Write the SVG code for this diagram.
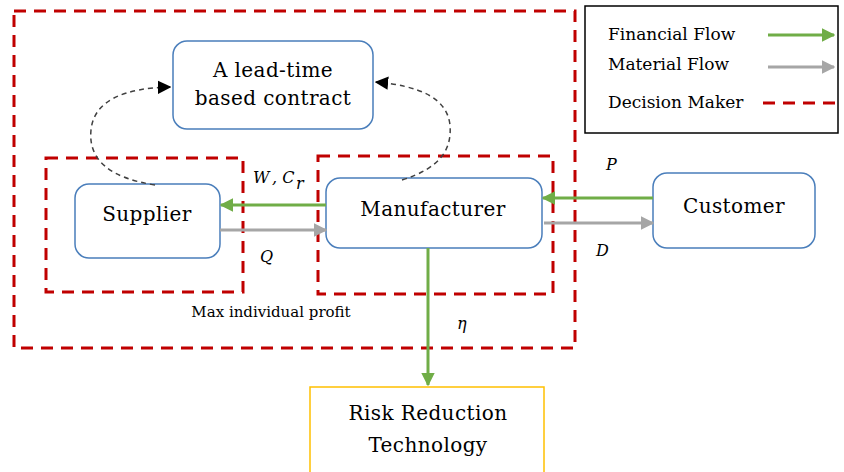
<svg xmlns="http://www.w3.org/2000/svg" width="844" height="472" viewBox="0 0 844 472">
<defs>
<style>
.dm{fill:none;stroke:#c00000;stroke-width:3;stroke-dasharray:12 8}
.node{fill:#fff;stroke:#4a7ebb;stroke-width:1.5}
.t{font-family:"DejaVu Serif","Liberation Serif",serif;fill:#000}
.n{font-size:20px;letter-spacing:0.4px;text-anchor:middle}
.fin{stroke:#70ad47;stroke-width:3;fill:none}
.mat{stroke:#a6a6a6;stroke-width:3;fill:none}
.cur{stroke:#404040;stroke-width:1.5;fill:none;stroke-dasharray:5 4}
.lbl{font-family:"DejaVu Serif","Liberation Serif",serif;font-style:italic;font-size:16px}
</style>
<marker id="ag" viewBox="0 0 10 10" refX="9" refY="5" markerWidth="4.5" markerHeight="4.5" orient="auto"><path d="M0,0L10,5L0,10z" fill="#70ad47"/></marker>
<marker id="ay" viewBox="0 0 10 10" refX="9" refY="5" markerWidth="4.5" markerHeight="4.5" orient="auto"><path d="M0,0L10,5L0,10z" fill="#a6a6a6"/></marker>
<marker id="ak" viewBox="0 0 10 10" refX="9" refY="5" markerWidth="9" markerHeight="9" orient="auto"><path d="M0,0L10,5L0,10z" fill="#000"/></marker>
</defs>
<rect width="844" height="472" fill="#fff"/>

<g id="decision-makers">
<rect class="dm" x="14" y="11" width="561" height="337"/>
<rect class="dm" x="46" y="158" width="197" height="134"/>
<rect class="dm" x="318" y="156" width="235" height="138"/>
<text class="t" x="271" y="317" font-size="15" text-anchor="middle">Max individual profit</text>
</g>

<g id="legend">
<rect x="585" y="6" width="253" height="127" fill="#fff" stroke="#000" stroke-width="1.5"/>
<text class="t" x="608" y="40" font-size="17">Financial Flow</text>
<text class="t" x="608" y="70" font-size="17">Material Flow</text>
<text class="t" x="608" y="108" font-size="17">Decision Maker</text>
<line class="fin" x1="768" y1="35" x2="834" y2="35" marker-end="url(#ag)"/>
<line class="mat" x1="768" y1="67" x2="834" y2="67" marker-end="url(#ay)"/>
<line class="dm" x1="763" y1="103" x2="838" y2="103"/>
</g>

<g id="contract">
<rect class="node" x="173" y="41" width="200" height="88" rx="14"/>
<text class="t n" x="273" y="77">A lead-time</text>
<text class="t n" x="273" y="105">based contract</text>
</g>

<g id="supplier">
<rect class="node" x="75" y="184" width="145" height="74" rx="14"/>
<text class="t n" x="147" y="221">Supplier</text>
</g>

<g id="manufacturer">
<rect class="node" x="326" y="178" width="216" height="70" rx="14"/>
<text class="t n" x="433" y="216">Manufacturer</text>
</g>

<g id="customer">
<rect class="node" x="653" y="173" width="162" height="75" rx="14"/>
<text class="t n" x="734" y="213">Customer</text>
</g>

<g id="risk">
<rect x="310" y="387" width="234" height="90" fill="#fff" stroke="#ffc000" stroke-width="1.5"/>
<text class="t n" x="428" y="420">Risk Reduction</text>
<text class="t n" x="428" y="452">Technology</text>
</g>

<g id="connectors">
<line class="fin" x1="326" y1="205" x2="221" y2="205" marker-end="url(#ag)"/>
<line class="mat" x1="220" y1="230" x2="326" y2="230" marker-end="url(#ay)"/>
<line class="fin" x1="653" y1="198" x2="543" y2="198" marker-end="url(#ag)"/>
<line class="mat" x1="544" y1="223" x2="653" y2="223" marker-end="url(#ay)"/>
<line class="fin" x1="428" y1="248" x2="428" y2="385" marker-end="url(#ag)"/>
<path class="cur" d="M155,185 C110,178 88,160 91,130 C94,100 125,88 170,87" marker-end="url(#ak)"/>
<path class="cur" d="M402,180 C440,168 452,150 450,125 C447,98 420,86 376,82" marker-end="url(#ak)"/>
<text class="lbl" x="253" y="183">W</text>
<text class="lbl" x="272" y="183">, C</text>
<text class="lbl" x="296" y="189" font-size="11">r</text>
<text class="lbl" x="260" y="262">Q</text>
<text class="lbl" x="606" y="170">P</text>
<text class="lbl" x="596" y="256">D</text>
<text class="lbl" x="457" y="329">η</text>
</g>
</svg>
